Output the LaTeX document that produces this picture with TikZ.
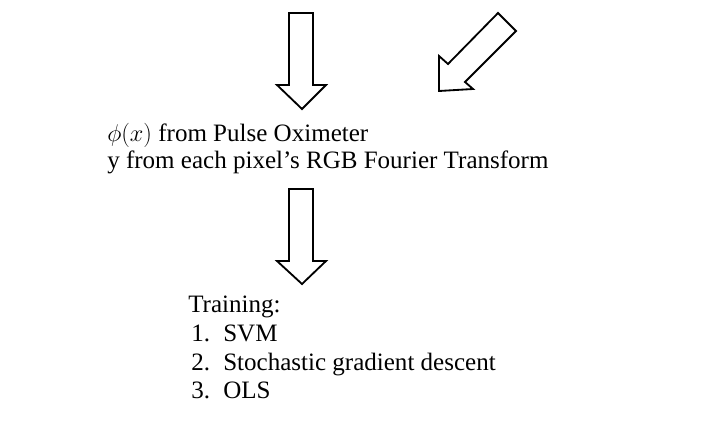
\documentclass[tikz,border=0pt]{standalone}
\usepackage{fontspec}
\setmainfont{Liberation Serif}
\usepackage{tikz}
\usetikzlibrary{positioning}
\definecolor{pulseblack}{HTML}{000000}

\tikzset{
  blockarrow/.style={draw=pulseblack, line width=1.3pt, fill=white, line join=miter},
  flowtext/.style={font=\fontsize{17.8}{22}\selectfont, anchor=base west, inner sep=0pt}
}

\begin{document}
\begin{tikzpicture}[x=0.025cm, y=-0.025cm]
      \useasboundingbox (0,0) rectangle (720,432);
      % arrow into the signal text
      \draw[blockarrow] (289,13) -- (313,13) -- (313,85) -- (326,85) -- (302,109) -- (277,85) -- (289,85) -- cycle;
      % arrow from the upper right
      \draw[blockarrow] (498,13) -- (516,31) -- (465,82) -- (473,89) -- (439,91) -- (439,56) -- (448,64) -- cycle;
      % inputs
      \node[flowtext] (phi) at (107,142) {$\phi(x)$ from Pulse Oximeter};
      \node[flowtext] (rgb) at (107,169) {y from each pixel’s RGB Fourier Transform};
      % arrow into training
      \draw[blockarrow] (289,189) -- (313,189) -- (313,261) -- (326,261) -- (302,284) -- (277,261) -- (289,261) -- cycle;
      % training methods
      \node[flowtext] (train) at (188,312) {Training:};
      \node[flowtext] (num1) at (191,341) {1.};
      \node[flowtext] (svm) at (223,341) {SVM};
      \node[flowtext] (num2) at (191,370) {2.};
      \node[flowtext] (sgd) at (223,370) {Stochastic gradient descent};
      \node[flowtext] (num3) at (191,398) {3.};
      \node[flowtext] (ols) at (223,398) {OLS};
    \end{tikzpicture}
\end{document}
